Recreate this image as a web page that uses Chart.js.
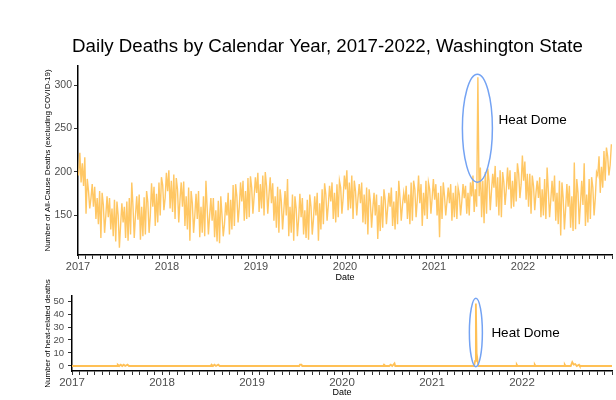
<!DOCTYPE html>
<html><head><meta charset="utf-8">
<script src="https://cdn.jsdelivr.net/npm/chart.js@4.4.1/dist/chart.umd.min.js"></script>
<style>
html,body{margin:0;padding:0;background:#fff;}
#wrap{position:relative;width:616px;height:400px;overflow:hidden;background:#fff;}
canvas{position:absolute;left:0;}
#topChart{top:0;}
#botChart{top:270px;}
</style></head><body>
<div id="wrap"><canvas id="topChart" width="616" height="290"></canvas><canvas id="botChart" width="616" height="130"></canvas></div>
<script>
// ---- data (6 samples per month across the daily band) ----
const yearLabels = ['2017','2018','2019','2020','2021','2022'];
const deaths2017 = [196,222,188,210,184,217, 152,192,178,158,170,186, 160,183,146,170,140,178, 124,176,162,130,150,172,
                    148,170,134,158,126,168, 120,166,150,113,140,164, 142,160,124,166,121,170, 128,188,160,124,150,172,
                    145,174,122,160,126,171, 128,178,165,130,150,187, 160,183,138,175,142,188, 150,194,185,156,170,199];
const deaths2018 = [178,202,158,190,154,197, 146,193,180,142,168,188, 160,189,138,172,134,182, 121,178,164,130,150,175,
                    146,178,125,160,130,172, 126,190,158,128,150,170, 144,170,125,156,120,167, 118,172,150,126,140,165,
                    150,176,128,168,134,185, 138,186,172,142,160,188, 166,190,144,178,146,193, 148,195,182,152,172,194];
const deaths2019 = [176,199,154,186,158,196, 150,200,184,152,174,194, 164,187,144,172,136,183, 130,180,166,134,156,178,
                    150,192,126,160,130,174, 121,172,158,126,146,175, 148,170,128,156,124,168, 122,174,160,128,146,172,
                    150,176,121,164,134,180, 140,187,174,144,162,184, 166,188,146,176,142,186, 148,190,182,152,170,196];
const deaths2020 = [180,202,156,188,158,196, 146,190,178,150,170,186, 164,188,142,174,140,182, 128,180,166,136,158,176,
                    150,174,123,162,132,172, 136,180,168,140,158,176, 160,182,138,166,134,178, 140,190,170,144,162,176,
                    164,184,146,174,140,188, 144,190,180,148,168,196, 164,186,138,176,150,190, 146,188,180,152,170,192];
const deaths2021 = [168,186,150,176,125,184, 146,188,172,150,166,182, 164,186,144,176,148,184, 146,182,174,150,166,186,
                    170,184,152,176,150,188, 172,196,154,180,160,309, 172,205,148,190,141,200, 152,204,190,156,178,198,
                    182,207,160,194,150,202, 148,200,188,162,180,205, 180,202,158,190,160,200, 166,210,198,170,186,219];
const deaths2022 = [190,212,168,198,160,198, 152,196,184,156,176,190, 170,194,148,180,150,192, 146,205,178,148,168,190,
                    166,196,144,176,140,190, 127,188,170,134,158,186, 160,184,136,172,132,211, 134,192,176,140,164,190,
                    162,210,138,174,142,192, 146,194,182,150,170,200, 196,218,176,206,182,224, 190,228,218,196,208,232];
// heat-related deaths: month offset from Jan 2017, and count
const heatMonth = [0, 6.0,6.1,6.3,6.5,6.7,6.9,7.1,7.4,7.6, 18.5,18.6,18.8,19.0,19.2,19.5,19.7, 30.3,30.4,30.6,30.7,
                   41.5,41.6,41.8,42.3,42.5,42.7,43.0,43.1, 53.6,53.75,53.85,53.95,54.1,54.2, 59.2,59.3,59.4,
                   61.6,61.7,61.8, 65.6,65.7,65.8, 66.5,66.7,66.9,67.1,67.3,67.6,67.7, 72];
const heatCount = [0, 0,1,0,1,0,1,0,1,0, 0,1,0,1,0,1,0, 0,1,1,0,
                   0,1,0,0,1,0,2,0, 0,4,48,10,3,0, 0,1,0,
                   0,1,0, 0,1,0, 0,3,1,1.5,0,1,0, 0];
const allCauseTicks = [150,200,250,300];
const heatTicks = [0,10,20,30,40,50];
const HEAT_DOME_MONTH = 53.85;

// ---- build ----
const FONT = '"Liberation Sans", Arial, Helvetica, sans-serif';
const monthTicks = [];
for (let m = 0; m <= 72; m++) monthTicks.push(m);
const deathPoints = [];
[deaths2017,deaths2018,deaths2019,deaths2020,deaths2021,deaths2022].forEach((arr,k)=>{
  arr.forEach((v,i)=>deathPoints.push({x:12*k+(i+0.5)/6, y:v}));
});
const heatPoints = heatMonth.map((m,i)=>({x:m, y:heatCount[i]}));

function heatDome(id, cfg){
  return {id:id, afterDatasetsDraw(chart){
    const xs = chart.scales.x, ys = chart.scales.y, ctx = chart.ctx;
    const cx = xs.getPixelForValue(HEAT_DOME_MONTH);
    const cy = ys.getPixelForValue(cfg.centerValue);
    ctx.save();
    ctx.beginPath();
    ctx.ellipse(cx, cy, cfg.rx, cfg.ry, 0, 0, 2*Math.PI);
    ctx.strokeStyle = '#74A3F3'; ctx.lineWidth = 1.5; ctx.stroke();
    ctx.fillStyle = '#000'; ctx.font = '13.5px ' + FONT;
    ctx.textAlign = 'left'; ctx.textBaseline = 'middle';
    ctx.fillText('Heat Dome', cx + cfg.textDx, ys.getPixelForValue(cfg.textValue));
    ctx.restore();
  }};
}

function xScale(height, tickSize, titlePadBottom){
  return {type:'linear', min:0, max:72,
    afterBuildTicks:s=>{s.ticks = monthTicks.map(v=>({value:v}));},
    afterFit:s=>{s.height = height;},
    ticks:{autoSkip:false, maxRotation:0, minRotation:0, padding:1, color:'#4d4d4d', font:{family:FONT,size:tickSize},
      callback:v=> (v%12===0 && v<72) ? yearLabels[v/12] : ''},
    grid:{drawOnChartArea:false, drawTicks:true, tickLength:4, color:'#333', lineWidth:1},
    border:{display:true, color:'#000', width:1.5},
    title:{display:true, text:'Date', color:'#000', font:{family:FONT,size:9}, padding:{top:0,bottom:titlePadBottom}}
  };
}

Chart.defaults.font.family = FONT;

new Chart(document.getElementById('topChart'), {
  type:'line',
  data:{datasets:[{data:deathPoints, borderColor:'#FFC764', borderWidth:1.4, pointRadius:0, tension:0}]},
  options:{
    responsive:false, animation:false, devicePixelRatio:1,
    layout:{padding:{left:43,right:4,top:0,bottom:0}},
    plugins:{legend:{display:false}, tooltip:{enabled:false},
      title:{display:true, text:'Daily Deaths by Calendar Year, 2017-2022, Washington State', color:'#000',
        font:{family:FONT,size:18.7,weight:'normal'}, padding:{top:35.5,bottom:8}}},
    scales:{
      x:xScale(35, 11, 6.6),
      y:{min:104.5, max:322,
        afterBuildTicks:s=>{s.ticks = allCauseTicks.map(v=>({value:v}));},
        afterFit:s=>{s.width = 35;},
        ticks:{padding:2, color:'#4d4d4d', font:{family:FONT,size:10.5}},
        grid:{drawOnChartArea:false, drawTicks:true, tickLength:4, color:'#333', lineWidth:1},
        border:{display:true, color:'#000', width:1.5},
        title:{display:true, text:'Number of All-Cause Deaths (excluding COVID-19)', color:'#000', font:{family:FONT,size:8}, padding:{top:0,bottom:0}}
      }
    }
  },
  plugins:[heatDome('hdTop',{centerValue:250.4, rx:15, ry:54, textDx:21, textValue:259.6})]
});

new Chart(document.getElementById('botChart'), {
  type:'line',
  data:{datasets:[{data:heatPoints, borderColor:'#FFC055', borderWidth:1.8, pointRadius:0, tension:0}]},
  options:{
    responsive:false, animation:false, devicePixelRatio:1,
    layout:{padding:{left:43,right:4,top:26,bottom:0}},
    plugins:{legend:{display:false}, tooltip:{enabled:false}},
    scales:{
      x:xScale(29, 11.5, 1.6),
      y:{min:-3.85, max:53.85,
        afterBuildTicks:s=>{s.ticks = heatTicks.map(v=>({value:v}));},
        afterFit:s=>{s.width = 29;},
        ticks:{padding:4, color:'#4d4d4d', font:{family:FONT,size:9.5}},
        grid:{drawOnChartArea:false, drawTicks:true, tickLength:4, color:'#333', lineWidth:1},
        border:{display:true, color:'#000', width:1.5},
        title:{display:true, text:'Number of heat-related deaths', color:'#000', font:{family:FONT,size:8}, padding:{top:0,bottom:0}}
      }
    }
  },
  plugins:[heatDome('hdBot',{centerValue:25.8, rx:6.5, ry:34.2, textDx:15.5, textValue:25.4})]
});
</script></body></html>
